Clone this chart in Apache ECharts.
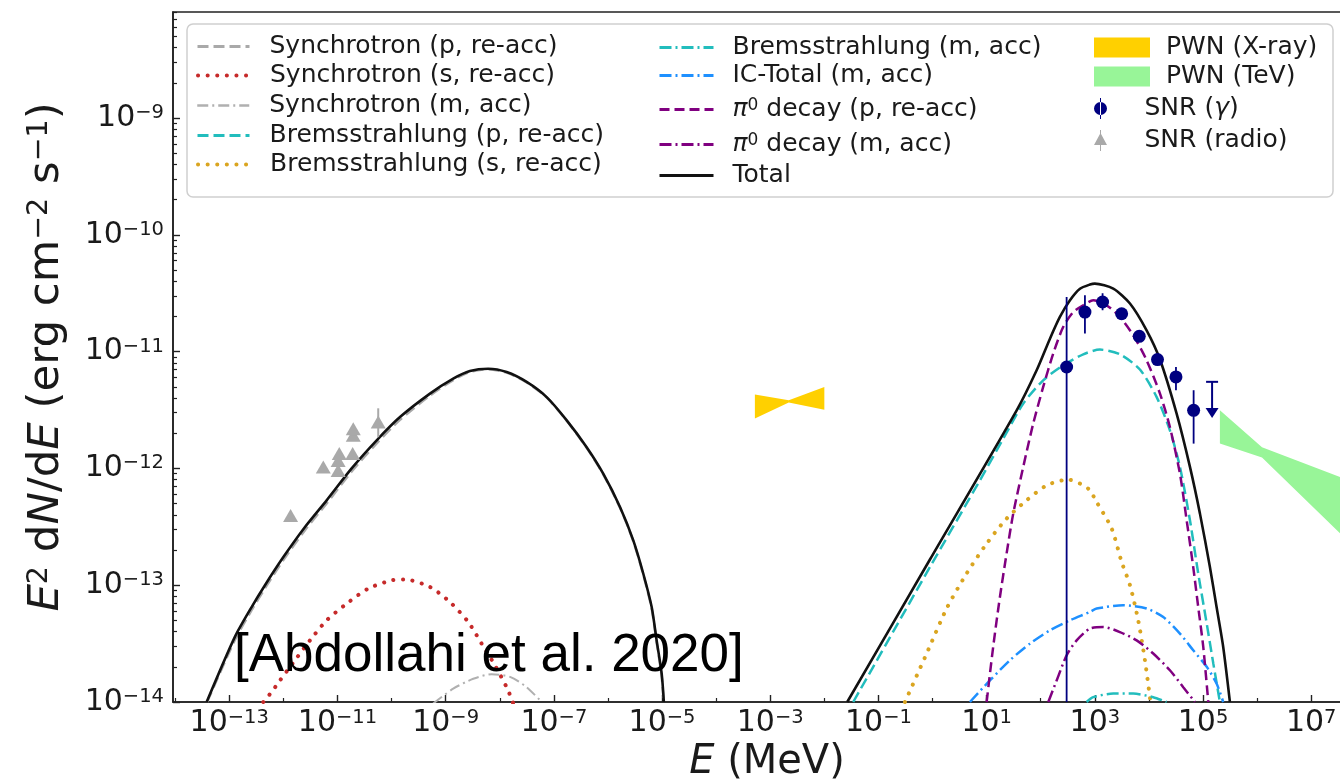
<!DOCTYPE html>
<html>
<head>
<meta charset="utf-8">
<script src="https://cdn.jsdelivr.net/npm/echarts@6/dist/echarts.min.js"></script>
<style>
  html, body { margin: 0; padding: 0; background: #fff; }
  #chart { width: 1340px; height: 781px; }
</style>
</head>
<body>
<div id="chart"></div>
<script>
// ---- values: [E (MeV), E^2 dN/dE (erg cm^-2 s^-1)] ----
const xTickExps = [-13, -11, -9, -7, -5, -3, -1, 1, 3, 5, 7];
const xMinorExps = [-14, -12, -10, -8, -6, -4, -2, 0, 2, 4, 6];
const yTickExps = [-14, -13, -12, -11, -10, -9];

const totalLow = [
  [3.82e-14, 1.0e-14], [1.27e-13, 3.61e-14], [2.59e-13, 6.5e-14], [4.57e-13, 1.0e-13],
  [1.0e-12, 1.74e-13], [2.51e-12, 3.15e-13], [6.31e-12, 5.33e-13], [1.83e-11, 1.0e-12],
  [5.31e-11, 1.74e-12], [1.43e-10, 2.75e-12], [5.13e-10, 4.37e-12], [1.38e-9, 5.87e-12],
  [2.81e-9, 6.82e-12], [6.12e-9, 7.14e-12], [1.34e-8, 6.68e-12], [3.14e-8, 5.5e-12],
  [7.36e-8, 4.08e-12], [1.73e-7, 2.58e-12], [4.04e-7, 1.52e-12], [8.18e-7, 9.02e-13],
  [1.67e-6, 4.68e-13], [2.94e-6, 2.42e-13], [4.49e-6, 1.26e-13], [6.43e-6, 6.5e-14],
  [7.94e-6, 3.37e-14], [9.84e-6, 1.75e-14], [1.08e-5, 1.0e-14]
];
const totalHigh = [
  [2.65e-2, 1.0e-14], [0.895, 1.66e-13], [35.9, 3.14e-12], [84, 6.92e-12], [148, 1.29e-11],
  [226, 1.98e-11], [347, 2.75e-11], [531, 3.45e-11], [811, 3.75e-11], [1.0e3, 3.82e-11],
  [2.19e3, 3.46e-11], [4.46e3, 2.58e-11], [9.06e3, 1.52e-11], [1.6e4, 8.55e-12],
  [3.25e4, 2.94e-12], [5.73e4, 1.03e-12], [8.77e4, 4.1e-13], [1.34e5, 1.43e-13],
  [1.78e5, 6.5e-14], [2.36e5, 2.96e-14], [3.14e5, 1.0e-14]
];
const synchP = [
  [3.9e-14, 1.0e-14], [1.27e-13, 3.39e-14], [2.59e-13, 6.11e-14], [4.57e-13, 9.4e-14],
  [1.0e-12, 1.64e-13], [2.51e-12, 2.96e-13], [6.31e-12, 5.01e-13], [1.83e-11, 9.4e-13],
  [5.31e-11, 1.64e-12], [1.43e-10, 2.6e-12], [5.13e-10, 4.2e-12], [1.38e-9, 5.7e-12],
  [2.81e-9, 6.7e-12], [6.12e-9, 7.05e-12], [1.34e-8, 6.6e-12], [3.14e-8, 5.45e-12],
  [7.36e-8, 4.05e-12], [1.73e-7, 2.56e-12], [4.04e-7, 1.5e-12], [8.18e-7, 8.9e-13],
  [1.67e-6, 4.6e-13], [2.94e-6, 2.38e-13], [4.49e-6, 1.23e-13], [6.43e-6, 6.3e-14],
  [7.94e-6, 3.25e-14], [9.8e-6, 1.68e-14], [1.07e-5, 1.0e-14]
];
const synchS = [
  [4.25e-13, 1.0e-14], [6.08e-13, 1.22e-14], [8.65e-13, 1.53e-14], [1.64e-12, 2.28e-14],
  [3.1e-12, 3.37e-14], [6.31e-12, 5.0e-14], [1.48e-11, 6.95e-14], [3.71e-11, 9.35e-14],
  [1.0e-10, 1.1e-13], [1.77e-10, 1.12e-13], [5.13e-10, 9.66e-14], [1.2e-9, 7.18e-14],
  [2.62e-9, 4.84e-14], [4.62e-9, 3.16e-14], [8.15e-9, 2.06e-14], [1.38e-8, 1.3e-14],
  [1.78e-8, 9.7e-15]
];
const synchM = [
  [5.9e-10, 9.7e-15], [1.38e-9, 1.3e-14], [3.24e-9, 1.58e-14], [7.08e-9, 1.73e-14],
  [1.55e-8, 1.64e-14], [3.14e-8, 1.34e-14], [5.96e-8, 1.0e-14]
];
const bremsP = [
  [3.42e-2, 1.0e-14], [0.895, 1.43e-13], [7.52, 7.91e-13], [20.3, 1.8e-12], [47.5, 3.59e-12],
  [111, 5.68e-12], [261, 7.64e-12], [611, 9.48e-12], [1.24e3, 1.04e-11], [2.91e3, 9.48e-12],
  [6.82e3, 7.02e-12], [1.39e4, 4.08e-12], [2.44e4, 2.12e-12], [3.74e4, 1.03e-12],
  [5.73e4, 3.6e-13], [8.15e4, 1.26e-13], [1.17e5, 4.69e-14], [1.55e5, 2.13e-14], [2.05e5, 1.0e-14]
];
const bremsS = [
  [0.309, 1.0e-14], [0.778, 2.6e-14], [1.82, 6.31e-14], [4.27, 1.26e-13], [10, 2.27e-13],
  [23.4, 3.72e-13], [54.8, 5.33e-13], [129, 7.16e-13], [322, 8.02e-13], [755, 6.71e-13],
  [1.08e3, 5.15e-13], [2.05e3, 3.05e-13], [3.13e3, 1.58e-13], [4.46e3, 1.0e-13],
  [6.34e3, 5.0e-14], [8.43e3, 2.28e-14], [1.07e4, 1.0e-14]
];
const bremsM = [
  [705, 1.0e-14], [933, 1.1e-14], [2.19e3, 1.18e-14], [5.13e3, 1.18e-14], [1.2e4, 1.1e-14], [2.12e4, 1.0e-14]
];
const icTotal = [
  [4.91, 1.0e-14], [11.5, 1.53e-14], [27, 2.28e-14], [63.1, 3.16e-14], [148, 4.11e-14],
  [347, 5.0e-14], [811, 5.9e-14], [1.08e3, 6.31e-14], [3.35e3, 6.73e-14], [9.06e3, 6.31e-14],
  [1.84e4, 5.34e-14], [3.74e4, 3.85e-14], [6.59e4, 2.77e-14], [1.17e5, 2.0e-14],
  [1.78e5, 1.44e-14], [2.36e5, 1.0e-14]
];
const pi0P = [
  [10, 1.0e-14], [13.2, 2.96e-14], [17.6, 7.93e-14], [23.4, 1.87e-13], [31, 4.1e-13],
  [47.5, 1.03e-12], [72.6, 2.42e-12], [111, 4.98e-12], [170, 9.62e-12], [261, 1.63e-11],
  [399, 2.18e-11], [611, 2.49e-11], [933, 2.75e-11], [1.65e3, 2.49e-11], [2.91e3, 1.98e-11],
  [5.13e3, 1.38e-11], [9.06e3, 8.43e-12], [1.6e4, 4.37e-12], [2.44e4, 2.26e-12],
  [3.74e4, 9.02e-13], [4.98e4, 3.6e-13], [6.59e4, 1.43e-13], [8.15e4, 6.5e-14],
  [1.01e5, 2.96e-14], [1.25e5, 1.0e-14]
];
const pi0M = [
  [138, 1.0e-14], [197, 1.53e-14], [301, 2.51e-14], [461, 3.37e-14], [811, 4.25e-14],
  [1.43e3, 4.39e-14], [2.91e3, 3.97e-14], [5.93e3, 3.37e-14], [1.2e4, 2.6e-14],
  [2.44e4, 1.87e-14], [4.31e4, 1.34e-14], [7.08e4, 1.0e-14]
];
// SNR gamma: [E, flux, low, high]
const snrGamma = [
  [301, 7.38e-12, 1e-15, 2.93e-11], [656, 2.18e-11, 1.43e-11, 3.03e-11],
  [1.39e3, 2.66e-11, 2.26e-11, 3.16e-11], [3.13e3, 2.11e-11, 1.95e-11, 2.3e-11],
  [6.62e3, 1.35e-11, 1.25e-11, 1.47e-11], [1.44e4, 8.55e-12, 7.9e-12, 9.3e-12],
  [3.16e4, 6.07e-12, 4.67e-12, 7.38e-12], [6.7e4, 3.14e-12, 1.63e-12, 4.67e-12]
];
// upper limit: [E, cap, arrow tip]
const snrGammaUL = [[1.47e5, 5.51e-12, 2.75e-12]];
const snrRadio = [
  [1.36e-12, 3.96e-13], [5.47e-12, 1.03e-12], [1.03e-11, 9.6e-13], [1.03e-11, 1.17e-12],
  [1.08e-11, 1.34e-12], [1.91e-11, 1.34e-12], [1.96e-11, 1.92e-12], [1.96e-11, 2.19e-12],
  [5.67e-11, 2.49e-12]
];
const snrRadioErr = [[5.67e-11, 1.85e-12, 3.27e-12]];
// PWN bow-ties
const xrayE = [5.2e-4, 2.2e-3, 1.0e-2];
const xrayHi = [4.29e-12, 3.83e-12, 4.98e-12];
const xrayLo = [2.67e-12, 3.66e-12, 3.18e-12];
const tevE = [2.05e5, 1.23e6, 8.3e7];
const tevHi = [3.14e-12, 1.52e-12, 7.2e-13];
const tevLo = [1.63e-12, 1.24e-12, 1.86e-13];

// ---- chart ----
const X_MIN = -14.04, X_MAX = 7.92, Y_MIN = -14, Y_MAX = -8.0925;
const FONT = 'DejaVu Sans';
const INK = '#1a1a1a';
const NAVY = '#000080';

const lg = Math.log10;
const toXY = pts => pts.map(p => [lg(p[0]), lg(p[1])]);
const sup = n => String(n).replace('-', '\u2212');

const yMinor = [];
yTickExps.forEach(n => {
  for (let k = 2; k <= 9; k++) {
    const v = n + lg(k);
    if (v < Y_MAX) yMinor.push(v);
  }
});

const chart = echarts.init(document.getElementById('chart'));

function curve(name, pts, color, dash, width, cap) {
  return {
    type: 'line', name: name, data: toXY(pts), symbol: 'none', smooth: 0.25,
    lineStyle: { color: color, width: width, type: dash, cap: cap || 'butt' },
    itemStyle: { color: color }, z: 2, silent: true
  };
}

function errBars(rows, color, width) {
  return {
    type: 'custom', coordinateSystem: 'cartesian2d', clip: true, silent: true, z: 3,
    data: rows.map(r => [lg(r[0]), lg(r[r.length - 2]), lg(r[r.length - 1])]),
    encode: { x: 0, y: [1, 2] },
    renderItem: (params, api) => {
      const a = api.coord([api.value(0), api.value(1)]);
      const b = api.coord([api.value(0), api.value(2)]);
      return { type: 'line', shape: { x1: a[0], y1: a[1], x2: b[0], y2: b[1] },
        style: { stroke: color, lineWidth: width } };
    }
  };
}

function band(name, E, hi, lo, color) {
  return {
    type: 'custom', name: name, coordinateSystem: 'cartesian2d', clip: true, silent: true, z: 1,
    itemStyle: { color: color },
    data: [[lg(E[0]), lg(lo[0])]],
    renderItem: (params, api) => {
      const top = E.map((e, i) => api.coord([lg(e), lg(hi[i])]));
      const bot = E.map((e, i) => api.coord([lg(e), lg(lo[i])])).reverse();
      return { type: 'polygon', shape: { points: top.concat(bot) }, style: { fill: color } };
    }
  };
}

const tickRich = {
  b: { fontSize: 30, fontFamily: FONT, color: INK, lineHeight: 30, verticalAlign: 'bottom' },
  s: { fontSize: 19.5, fontFamily: FONT, color: INK, lineHeight: 14, verticalAlign: 'top' }
};
const tickFmt = v => '{b|10}{s|' + sup(Math.round(v)) + '}';

const legendRich = {
  i: { fontSize: 25, fontFamily: FONT, fontStyle: 'italic', color: INK, lineHeight: 25 },
  s: { fontSize: 17, fontFamily: FONT, color: INK, lineHeight: 10, verticalAlign: 'top' }
};
function legendFmt(name) {
  if (name.indexOf('\u03c0') === 0) return '{i|\u03c0}{s|0}' + name.slice(2);
  if (name === 'SNR (\u03b3)') return 'SNR ({i|\u03b3})';
  return name;
}
function legendItem(name, left, cy, iw, ih, pad, icon, lineW) {
  const o = {
    data: [icon ? { name: name, icon: icon } : name],
    left: left, top: cy - 11, padding: 0, itemGap: 0,
    itemWidth: iw, itemHeight: ih, selectedMode: false,
    formatter: legendFmt,
    textStyle: { fontSize: 25, fontFamily: FONT, color: INK, lineHeight: 25,
      padding: [0, 0, 0, pad], rich: legendRich }
  };
  if (!icon) {
    o.itemStyle = { opacity: 0 };
    o.lineStyle = { width: lineW || 2.5 };
  }
  return o;
}

const pathGamma = 'path://M6,0H7V21H6Z M0,10.5A6.5,6.5 0 1,0 13,10.5A6.5,6.5 0 1,0 0,10.5Z';
const pathRadio = 'path://M6,0H7V21H6Z M6.5,3L13,15H0Z';

const option = {
  animation: false,
  backgroundColor: '#fff',
  grid: { left: 173, top: 12, width: 1188, height: 690, show: true, outerBoundsMode: 'none',
    containLabel: false, borderColor: '#222', borderWidth: 1.6, backgroundColor: 'transparent' },
  xAxis: [{
    type: 'value', min: X_MIN, max: X_MAX, position: 'bottom',
    axisLine: { onZero: false, lineStyle: { color: '#222', width: 1.6 } },
    axisTick: { inside: true, length: 7, customValues: xTickExps, lineStyle: { color: '#222', width: 1.4 } },
    axisLabel: { customValues: xTickExps, formatter: tickFmt, margin: 6, rich: tickRich },
    splitLine: { show: false },
    name: '{i|E} (MeV)', nameLocation: 'middle', nameGap: 35,
    nameTextStyle: { fontSize: 40, fontFamily: FONT, color: INK, lineHeight: 40,
      rich: { i: { fontSize: 40, fontFamily: FONT, fontStyle: 'italic', color: INK, lineHeight: 40 } } }
  }, {
    type: 'value', min: X_MIN, max: X_MAX, position: 'bottom',
    axisLine: { show: false, onZero: false },
    axisTick: { inside: true, length: 4, customValues: xMinorExps, lineStyle: { color: '#222', width: 1.2 } },
    axisLabel: { show: false }, splitLine: { show: false }
  }],
  yAxis: [{
    type: 'value', min: Y_MIN, max: Y_MAX, position: 'left',
    axisLine: { onZero: false, lineStyle: { color: '#222', width: 1.6 } },
    axisTick: { inside: true, length: 7, customValues: yTickExps, lineStyle: { color: '#222', width: 1.4 } },
    axisLabel: { customValues: yTickExps, formatter: tickFmt, margin: 9, rich: tickRich },
    splitLine: { show: false },
    name: '{i|E}{s|2} d{i|N}/d{i|E} (erg cm{s|\u22122} s{s|\u22121})',
    nameLocation: 'middle', nameGap: 104, nameRotate: 90,
    nameTextStyle: { fontSize: 43.5, fontFamily: FONT, color: INK, lineHeight: 44,
      rich: {
        i: { fontSize: 43.5, fontFamily: FONT, fontStyle: 'italic', color: INK, lineHeight: 44 },
        s: { fontSize: 28.5, fontFamily: FONT, color: INK, lineHeight: 6, verticalAlign: 'top' }
      } }
  }, {
    type: 'value', min: Y_MIN, max: Y_MAX, position: 'left',
    axisLine: { show: false, onZero: false },
    axisTick: { inside: true, length: 4, customValues: yMinor, lineStyle: { color: '#222', width: 1.2 } },
    axisLabel: { show: false }, splitLine: { show: false }
  }],
  legend: [
    legendItem('Synchrotron (p, re-acc)', 196, 45, 52, 14, 15, null, 3),
    legendItem('Synchrotron (s, re-acc)', 196, 74, 52, 14, 15, null, 4),
    legendItem('Synchrotron (m, acc)', 196, 104, 52, 14, 15, null, 2.5),
    legendItem('Bremsstrahlung (p, re-acc)', 196, 134, 52, 14, 15, null, 3),
    legendItem('Bremsstrahlung (s, re-acc)', 196, 163, 52, 14, 15, null, 4),
    legendItem('Bremsstrahlung (m, acc)', 658, 46, 54, 14, 14, null, 3),
    legendItem('IC-Total (m, acc)', 658, 74, 54, 14, 14, null, 3),
    legendItem('\u03c0\u2070 decay (p, re-acc)', 658, 108, 54, 14, 14, null, 3),
    legendItem('\u03c0\u2070 decay (m, acc)', 658, 143, 54, 14, 14, null, 3),
    legendItem('Total', 658, 174, 54, 14, 14, null, 3),
    legendItem('PWN (X-ray)', 1094, 46, 56, 20, 11, 'rect'),
    legendItem('PWN (TeV)', 1094, 75, 56, 20, 11, 'rect'),
    legendItem('SNR (\u03b3)', 1094, 107, 56, 21, 11, pathGamma),
    legendItem('SNR (radio)', 1094, 139, 56, 21, 11, pathRadio)
  ],
  graphic: [{
    type: 'rect', z: 3, silent: true,
    shape: { x: 187, y: 24, width: 1146, height: 173, r: 6 },
    style: { fill: 'rgba(255,255,255,0.8)', stroke: '#cfcfcf', lineWidth: 1.5 }
  }, {
    type: 'text', left: 234, top: 630, z: 100, silent: true,
    style: { text: '[Abdollahi et al. 2020]', font: '53px "Liberation Sans", Arial, sans-serif', fill: '#000' }
  }],
  series: [
    band('PWN (X-ray)', xrayE, xrayHi, xrayLo, '#ffd000'),
    band('PWN (TeV)', tevE, tevHi, tevLo, '#98f598'),
    curve('Synchrotron (p, re-acc)', synchP, '#a9a9a9', [11, 5], 2.5),
    curve('Synchrotron (s, re-acc)', synchS, '#c62a2a', [0.1, 9.5], 4, 'round'),
    curve('Synchrotron (m, acc)', synchM, '#b0b0b0', [11, 4, 2, 4], 2),
    curve('Bremsstrahlung (p, re-acc)', bremsP, '#22bdbd', [11, 5], 2.5),
    curve('Bremsstrahlung (s, re-acc)', bremsS, '#daa520', [0.1, 9.5], 4, 'round'),
    curve('Bremsstrahlung (m, acc)', bremsM, '#22bdbd', [12, 4, 2, 4], 2.5),
    curve('IC-Total (m, acc)', icTotal, '#1e90ff', [12, 4, 2, 4], 2.5),
    curve('\u03c0\u2070 decay (p, re-acc)', pi0P, '#800080', [10, 5], 2.5),
    curve('\u03c0\u2070 decay (m, acc)', pi0M, '#800080', [12, 4, 2, 4], 2.5),
    curve('Total', totalLow, '#111', 'solid', 2.6),
    curve('Total', totalHigh, '#111', 'solid', 2.6),
    errBars(snrGamma, NAVY, 1.8),
    errBars(snrRadioErr, '#a9a9a9', 2),
    {
      type: 'custom', coordinateSystem: 'cartesian2d', clip: true, silent: true, z: 4,
      data: snrGammaUL.map(r => [lg(r[0]), lg(r[1]), lg(r[2])]),
      encode: { x: 0, y: [1, 2] },
      renderItem: (params, api) => {
        const c = api.coord([api.value(0), api.value(1)]);
        const t = api.coord([api.value(0), api.value(2)]);
        return { type: 'group', children: [
          { type: 'line', shape: { x1: c[0] - 6, y1: c[1], x2: c[0] + 6, y2: c[1] }, style: { stroke: NAVY, lineWidth: 2 } },
          { type: 'line', shape: { x1: c[0], y1: c[1], x2: t[0], y2: t[1] - 6 }, style: { stroke: NAVY, lineWidth: 2 } },
          { type: 'polygon', shape: { points: [[t[0] - 6.5, t[1] - 9], [t[0] + 6.5, t[1] - 9], [t[0], t[1] + 1]] }, style: { fill: NAVY } }
        ] };
      }
    },
    {
      type: 'scatter', name: 'SNR (\u03b3)', symbol: 'circle', symbolSize: 13, z: 5, silent: true,
      itemStyle: { color: NAVY, opacity: 1 },
      data: snrGamma.map(r => [lg(r[0]), lg(r[1])])
    },
    {
      type: 'scatter', name: 'SNR (radio)', symbol: 'triangle', symbolSize: [15, 13], z: 5, silent: true,
      itemStyle: { color: '#a9a9a9', opacity: 1 },
      data: toXY(snrRadio)
    }
  ]
};

chart.setOption(option);
</script>
</body>
</html>
